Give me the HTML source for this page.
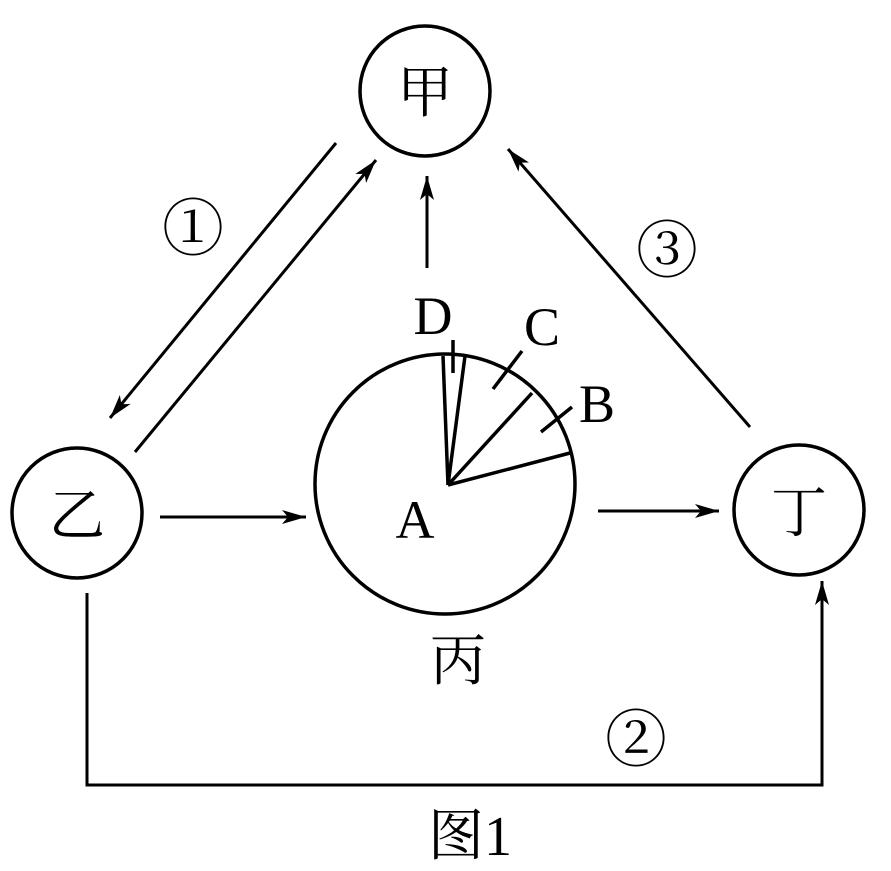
<!DOCTYPE html>
<html><head><meta charset="utf-8"><style>
html,body{margin:0;padding:0;background:#fff;}
svg{display:block;}
</style></head><body>
<svg width="891" height="871" viewBox="0 0 891 871">
<defs>
<marker id="ah" viewBox="0 0 24 14" refX="24" refY="7" markerWidth="24" markerHeight="14" markerUnits="userSpaceOnUse" orient="auto">
<path d="M0,0 L24,7 L0,14 L6,7 Z" fill="#000"/>
</marker>
</defs>
<g fill="none" stroke="#000" stroke-width="3.5">
<circle cx="425" cy="91" r="65"/>
<circle cx="77" cy="513" r="65"/>
<circle cx="799" cy="510" r="65"/>
<circle cx="445" cy="484" r="130"/>
</g>
<g stroke="#000" stroke-width="3.5" fill="none">
<line x1="448" y1="485" x2="443" y2="356"/>
<line x1="448" y1="485" x2="465" y2="356"/>
<line x1="448" y1="485" x2="532" y2="393"/>
<line x1="448" y1="485" x2="570" y2="453"/>
<line x1="453" y1="340" x2="453" y2="373"/>
<line x1="522" y1="351" x2="493" y2="389"/>
<line x1="572" y1="407" x2="541" y2="432"/>
</g>
<g stroke="#000" stroke-width="3" fill="none" marker-end="url(#ah)">
<line x1="336" y1="143" x2="110" y2="418"/>
<line x1="135" y1="452" x2="376" y2="160"/>
<line x1="427" y1="268" x2="427" y2="176"/>
<line x1="750" y1="427" x2="508" y2="149"/>
<line x1="160" y1="517" x2="306" y2="517"/>
<line x1="598" y1="511" x2="719" y2="511"/>
<polyline points="87,593 87,785 822,785 822,581"/>
</g>
<g font-size="56" text-anchor="middle" font-family="'Noto Serif CJK SC', serif" fill="#000">
<text x="425" y="112">甲</text>
<text x="77" y="535">乙</text>
<text x="799" y="532">丁</text>
<text x="458" y="680">丙</text>
<text x="470" y="855">图<tspan font-family="'Liberation Serif', serif">1</tspan></text>
</g>
<g font-size="54" text-anchor="middle" font-family="'Liberation Serif', serif" fill="#000">
<text x="433" y="334">D</text>
<text x="542" y="345">C</text>
<text x="597" y="422">B</text>
<text x="415" y="538">A</text>
</g>
<g font-size="62" text-anchor="middle" font-family="'Noto Serif CJK SC', 'Noto Sans CJK SC', serif" fill="#000">
<text x="193" y="250">①</text>
<text x="667" y="272">③</text>
<text x="636" y="761">②</text>
</g>
</svg>
</body></html>
